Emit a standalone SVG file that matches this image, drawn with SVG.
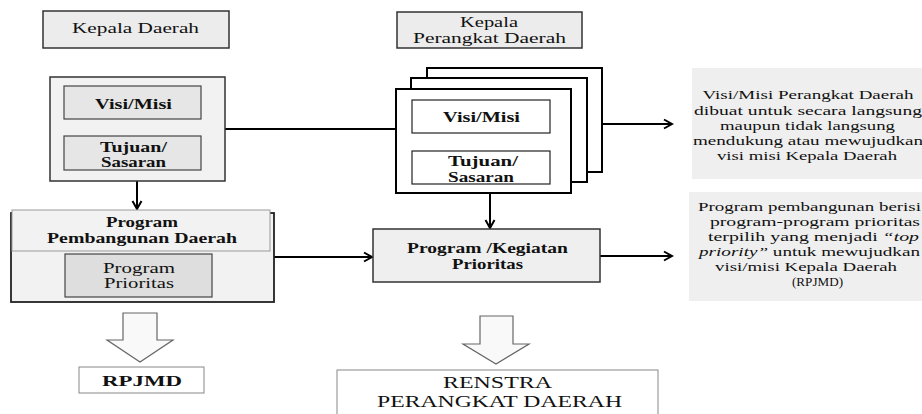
<svg xmlns="http://www.w3.org/2000/svg" width="922" height="414" viewBox="0 0 922 414">
<defs>
<style>
text{font-family:"Liberation Serif","Times New Roman",serif;fill:#111;text-anchor:middle}
.b{font-weight:bold}
.box{stroke:#333;stroke-width:1.5}
.stack{fill:#fff;stroke:#000;stroke-width:2}
.line{stroke:#000;stroke-width:2;fill:none}
.hollow{fill:#f9f9f9;stroke:#666;stroke-width:1.2}
.note{fill:#efefef;stroke:none}
.n{font-size:13.5px;text-anchor:start}
</style>
<marker id="ah" markerWidth="12" markerHeight="12" refX="10" refY="6" orient="auto" markerUnits="userSpaceOnUse">
<path d="M2,1.5 L10,6 L2,10.5" fill="none" stroke="#000" stroke-width="2"/>
</marker>
</defs>

<g id="connectors">
<path class="line" d="M225,129 H396"/>
<path class="line" d="M602,124 H672" marker-end="url(#ah)"/>
<path class="line" d="M137,181 V209" marker-end="url(#ah)"/>
<path class="line" d="M490,193 V228" marker-end="url(#ah)"/>
<path class="line" d="M274,257 H372" marker-end="url(#ah)"/>
<path class="line" d="M600,256 H672" marker-end="url(#ah)"/>
<path class="hollow" d="M123,313 H157 V340 H173 L140,362 L107,340 H123 Z"/>
<path class="hollow" d="M480,316 H513 V344 H529 L496,364 L463,344 H480 Z"/>
</g>

<g id="kepala-daerah">
<rect class="box" x="43" y="11" width="186" height="37" fill="#ececec"/>
<text x="135.5" y="33" font-size="14" textLength="127" lengthAdjust="spacingAndGlyphs">Kepala Daerah</text>
</g>

<g id="kepala-perangkat-daerah">
<rect class="box" x="397" y="12" width="185" height="36" fill="#ececec"/>
<text x="489" y="27" font-size="14" textLength="58" lengthAdjust="spacingAndGlyphs">Kepala</text>
<text x="489.5" y="43" font-size="14" textLength="153" lengthAdjust="spacingAndGlyphs">Perangkat Daerah</text>
</g>

<g id="kd-visi-misi">
<rect class="box" x="50" y="77" width="175" height="104" fill="#f2f2f2"/>
<rect x="64" y="86" width="137" height="33" fill="#e6e6e6" stroke="#444" stroke-width="1.2"/>
<text class="b" x="133.5" y="109" font-size="15" textLength="77" lengthAdjust="spacingAndGlyphs">Visi/Misi</text>
<rect x="64" y="136" width="137" height="34" fill="#e6e6e6" stroke="#444" stroke-width="1.2"/>
<text class="b" x="133.5" y="152" font-size="15" textLength="67" lengthAdjust="spacingAndGlyphs">Tujuan/</text>
<text class="b" x="133.5" y="167" font-size="15" textLength="65" lengthAdjust="spacingAndGlyphs">Sasaran</text>
</g>

<g id="pd-visi-misi">
<rect class="stack" x="427" y="68" width="175" height="104"/>
<rect class="stack" x="411" y="78" width="176" height="104"/>
<rect class="stack" x="396" y="89" width="175" height="104"/>
<rect x="412" y="100" width="138" height="33" fill="#fff" stroke="#222" stroke-width="1.2"/>
<text class="b" x="481.5" y="122" font-size="15" textLength="77" lengthAdjust="spacingAndGlyphs">Visi/Misi</text>
<rect x="412" y="151" width="138" height="33" fill="#fff" stroke="#222" stroke-width="1.2"/>
<text class="b" x="483" y="166" font-size="15" textLength="70" lengthAdjust="spacingAndGlyphs">Tujuan/</text>
<text class="b" x="481" y="182" font-size="15" textLength="66" lengthAdjust="spacingAndGlyphs">Sasaran</text>
</g>

<g id="note-visi">
<rect class="note" x="692" y="68" width="240" height="111"/>
<text x="808" y="99" font-size="13.5" textLength="211" lengthAdjust="spacingAndGlyphs">Visi/Misi Perangkat Daerah</text>
<text x="808" y="115" font-size="13.5" textLength="228" lengthAdjust="spacingAndGlyphs">dibuat untuk secara langsung</text>
<text x="807.5" y="130" font-size="13.5" textLength="175" lengthAdjust="spacingAndGlyphs">maupun tidak langsung</text>
<text x="808" y="145" font-size="13.5" textLength="230" lengthAdjust="spacingAndGlyphs">mendukung atau mewujudkan</text>
<text x="807" y="160" font-size="13.5" textLength="180" lengthAdjust="spacingAndGlyphs">visi misi Kepala Daerah</text>
</g>

<g id="program-pembangunan-daerah">
<rect x="11" y="213" width="263" height="89" fill="#f2f2f2" stroke="#222" stroke-width="1.8"/>
<rect x="12" y="210" width="258" height="41" fill="#f2f2f2" stroke="#9a9a9a" stroke-width="1"/>
<text class="b" x="142" y="227" font-size="15" textLength="72" lengthAdjust="spacingAndGlyphs">Program</text>
<text class="b" x="142" y="243" font-size="15" textLength="190" lengthAdjust="spacingAndGlyphs">Pembangunan Daerah</text>
<rect x="65" y="254" width="147" height="43" fill="#dedede" stroke="#444" stroke-width="1.2"/>
<text x="139" y="273" font-size="15" textLength="72" lengthAdjust="spacingAndGlyphs">Program</text>
<text x="139" y="288" font-size="15" textLength="70" lengthAdjust="spacingAndGlyphs">Prioritas</text>
</g>

<g id="program-kegiatan-prioritas">
<rect class="box" x="373" y="229" width="227" height="53" fill="#efefef"/>
<text class="b" x="487.5" y="253" font-size="15" textLength="161" lengthAdjust="spacingAndGlyphs">Program /Kegiatan</text>
<text class="b" x="487.5" y="269" font-size="15" textLength="71" lengthAdjust="spacingAndGlyphs">Prioritas</text>
</g>

<g id="note-program">
<rect class="note" x="689" y="192" width="240" height="109"/>
<text class="n" x="698" y="211" textLength="223" lengthAdjust="spacingAndGlyphs">Program pembangunan berisi</text>
<text class="n" x="710" y="226" textLength="210" lengthAdjust="spacingAndGlyphs">program-program prioritas</text>
<text class="n" x="708" y="241" textLength="211" lengthAdjust="spacingAndGlyphs">terpilih yang menjadi <tspan font-style="italic">“top</tspan></text>
<text class="n" x="699" y="256" textLength="221" lengthAdjust="spacingAndGlyphs"><tspan font-style="italic">priority”</tspan> untuk mewujudkan</text>
<text class="n" x="715" y="271" textLength="182" lengthAdjust="spacingAndGlyphs">visi/misi Kepala Daerah</text>
<text class="n" x="792" y="286" textLength="51" lengthAdjust="spacingAndGlyphs">(RPJMD)</text>
</g>

<g id="rpjmd">
<rect x="79" y="367" width="125" height="26" fill="#fff" stroke="#888" stroke-width="1"/>
<text class="b" x="142" y="386" font-size="15" textLength="80" lengthAdjust="spacingAndGlyphs">RPJMD</text>
</g>

<g id="renstra">
<rect x="337" y="370" width="321" height="50" fill="#fff" stroke="#888" stroke-width="1"/>
<text x="497.5" y="388" font-size="16" textLength="109" lengthAdjust="spacingAndGlyphs">RENSTRA</text>
<text x="499.5" y="407" font-size="16" textLength="245" lengthAdjust="spacingAndGlyphs">PERANGKAT DAERAH</text>
</g>
</svg>
